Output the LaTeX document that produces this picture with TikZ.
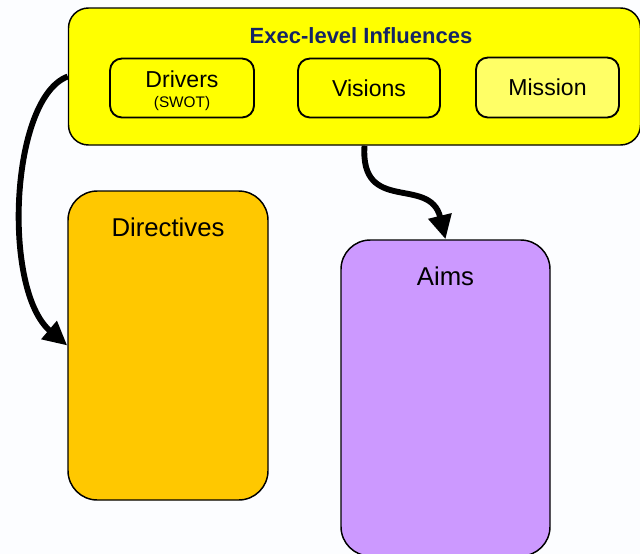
\documentclass[tikz,border=0pt]{standalone}
\usepackage{fontspec}
\setmainfont{Liberation Sans}
\usetikzlibrary{arrows.meta,positioning}

\tikzset{every picture/.style={line width=0.75pt}}
\tikzset{
  bigbox/.style={draw, line width=1.1pt, rounded corners=22pt, inner sep=0pt},
  smallbox/.style={draw, line width=1.4pt, rounded corners=9pt, align=center, inner sep=0pt,
    font=\fontsize{17.3}{19}\selectfont},
  boxlabel/.style={inner sep=0pt, font=\fontsize{19.3}{21}\selectfont},
  bigarrow/.style={line width=4.4pt, -{Triangle[length=18pt,width=17pt]}}
}

\begin{document}
\begin{tikzpicture}[x=0.75pt,y=0.75pt,yscale=-1,xscale=1]
    \useasboundingbox (0,0) rectangle (640,554);
    \fill [color={rgb, 255:red, 252; green, 253; blue, 255 }] (0,0) rectangle (640,554);

    %Exec-level box
    \node [bigbox, rounded corners=15pt, fill={rgb, 255:red, 255; green, 255; blue, 0 }, minimum width=429pt, minimum height=102.75pt] (exec) at (354.5,76.5) {};
    \node [inner sep=0pt, color={rgb, 255:red, 20; green, 36; blue, 100 }, font=\bfseries\fontsize{16.5}{18}\selectfont] (exectitle) at (361,36) {Exec-level Influences};
    %Drivers, Visions, Mission
    \node [smallbox, fill={rgb, 255:red, 255; green, 255; blue, 0 }, minimum width=108pt, minimum height=44.25pt] (drivers) at (182,88) {};
    \node [inner sep=0pt, align=center, font=\fontsize{17.3}{19}\selectfont] (driverstext) at (182,91) {Drivers\\[-4pt]{\fontsize{11.5}{12}\selectfont (SWOT)}};
    \node [smallbox, fill={rgb, 255:red, 255; green, 255; blue, 0 }, minimum width=106.5pt, minimum height=44.25pt] (visions) at (369,88) {Visions};
    \node [smallbox, fill={rgb, 255:red, 255; green, 255; blue, 102 }, minimum width=107.25pt, minimum height=45pt] (mission) at (547.5,87.5) {Mission};

    %Directives
    \node [bigbox, fill={rgb, 255:red, 255; green, 200; blue, 0 }, minimum width=150pt, minimum height=231.75pt] (directives) at (168,345.5) {};
    \node [boxlabel, below=20pt of directives.north] (directivestext) {Directives};
    %Aims
    \node [bigbox, fill={rgb, 255:red, 204; green, 153; blue, 255 }, minimum width=156.75pt, minimum height=237pt] (aims) at (445.5,398) {};
    \node [boxlabel, below=20pt of aims.north] (aimstext) {Aims};

    %Arrows
    \draw [bigarrow] (exec.west) .. controls (10,98) and (2,290) .. (directives.west);
    \draw [bigarrow] ([xshift=7.5pt]exec.south) .. controls (360,215) and (430,175) .. (aims.north);

\end{tikzpicture}
\end{document}
